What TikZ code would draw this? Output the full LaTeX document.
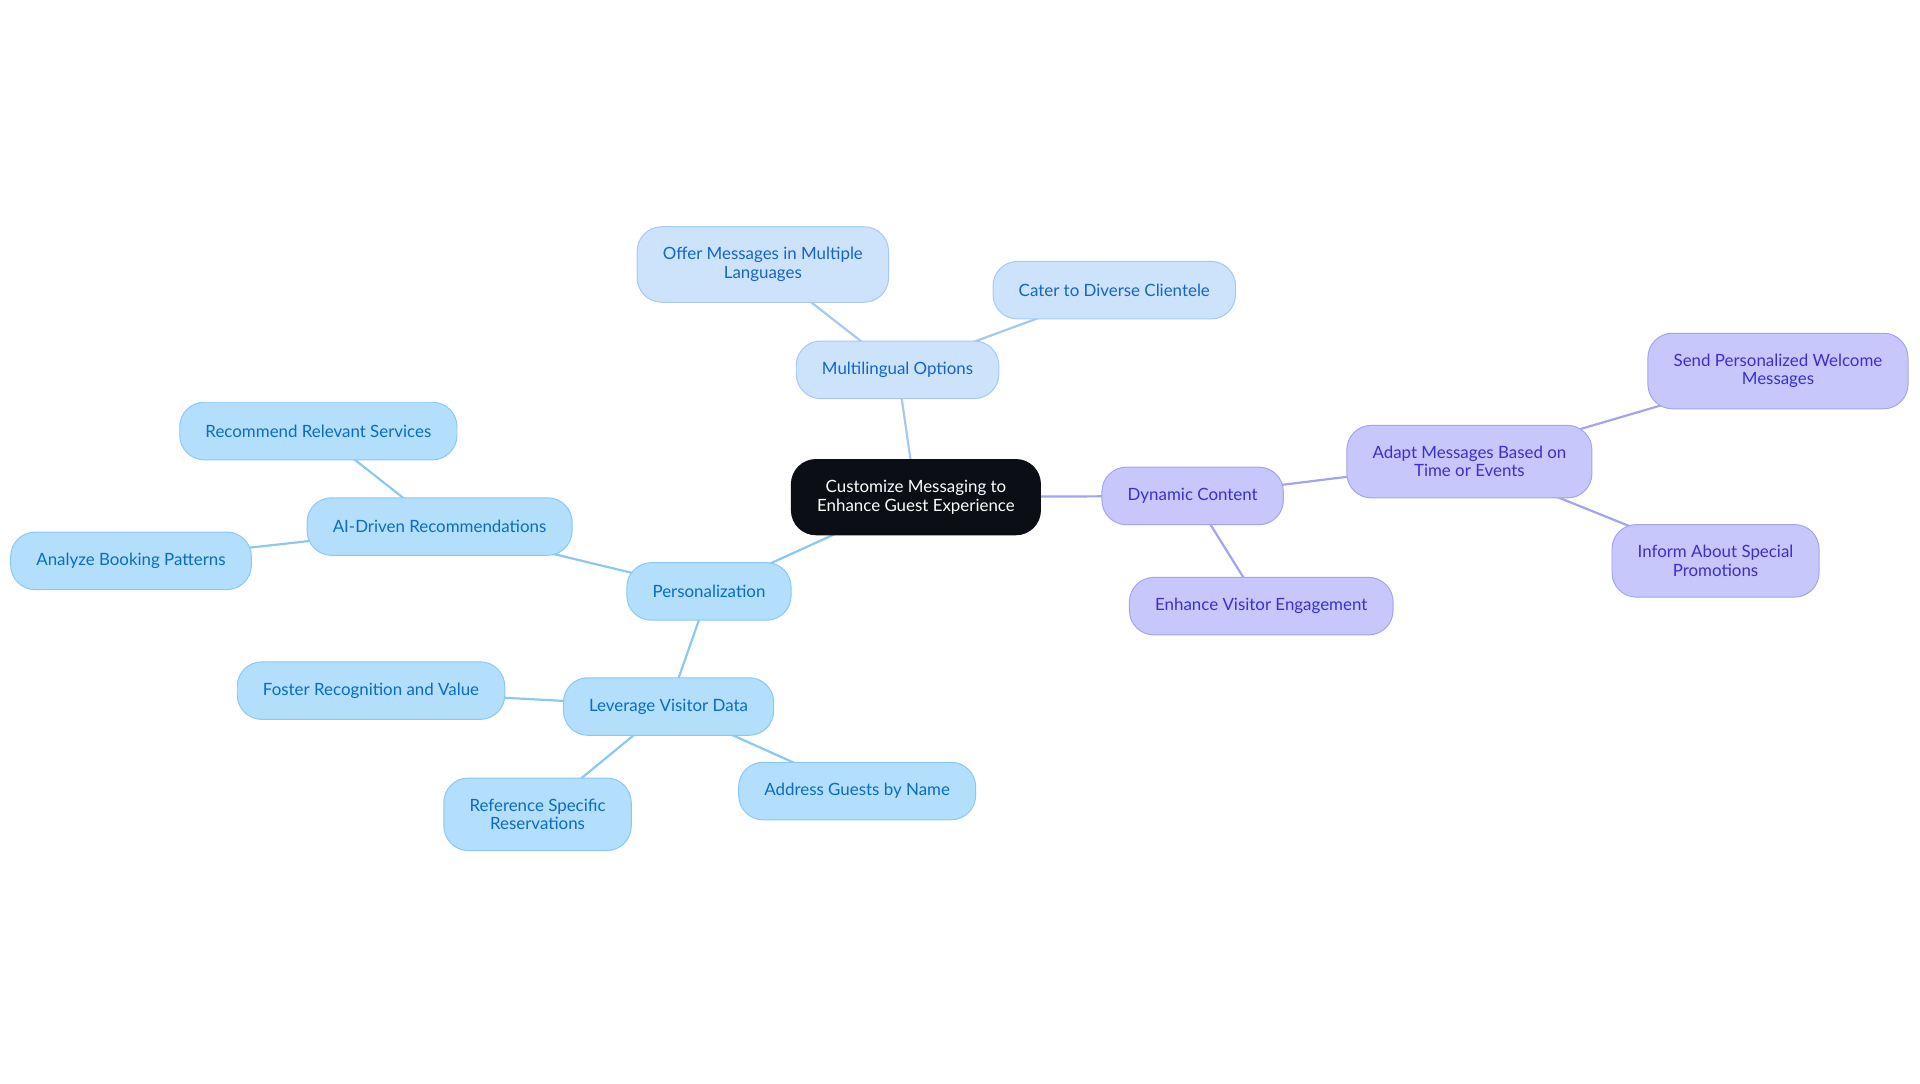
\documentclass[tikz,border=0pt]{standalone}
\usepackage{fontspec}
\setmainfont{Lato}
\usetikzlibrary{backgrounds}
\definecolor{rootfill}{HTML}{0B0E14}
\definecolor{persfill}{HTML}{B3DEFC}
\definecolor{persline}{HTML}{8CC8F4}
\definecolor{perstext}{HTML}{0A6CC2}
\definecolor{multfill}{HTML}{CCE3FB}
\definecolor{multline}{HTML}{A6C9F3}
\definecolor{multtext}{HTML}{1565C8}
\definecolor{dynfill}{HTML}{C7C7FC}
\definecolor{dynline}{HTML}{A3A3F2}
\definecolor{dyntext}{HTML}{3B30CF}
\begin{document}
\begin{tikzpicture}[x=1pt,y=-1pt]
\tikzset{
  topic/.style={rounded corners=20pt, draw, line width=0.8pt, minimum height=47pt,
    inner xsep=21pt, inner ysep=17pt, align=center,
    font=\fontsize{13.8}{15}\selectfont},
  rootnode/.style={topic, fill=rootfill, draw=rootfill, text=white},
  perstopic/.style={topic, fill=persfill, draw=persline, text=perstext},
  multtopic/.style={topic, fill=multfill, draw=multline, text=multtext},
  dyntopic/.style={topic, fill=dynfill, draw=dynline, text=dyntext},
  perslink/.style={draw=persline, line width=1.8pt},
  multlink/.style={draw=multline, line width=1.8pt},
  dynlink/.style={draw=dynline, line width=1.8pt}
}
\useasboundingbox (0,0) rectangle (1568,884.5);
%\draw[step=50,gray,very thin] (0,0) grid (1568,884);
\node[rootnode] (root) at (748,406) {Customize Messaging to\\Enhance Guest Experience};
% multilingual branch
\node[multtopic] (multi) at (733,302) {Multilingual Options};
\node[multtopic] (offer) at (623,216) {Offer Messages in Multiple\\Languages};
\node[multtopic] (cater) at (910,237) {Cater to Diverse Clientele};
% dynamic branch
\node[dyntopic] (dyn) at (974,405) {Dynamic Content};
\node[dyntopic] (adapt) at (1200,377) {Adapt Messages Based on\\Time or Events};
\node[dyntopic] (send) at (1452,303) {Send Personalized Welcome\\Messages};
\node[dyntopic] (inform) at (1401,458) {Inform About Special\\Promotions};
\node[dyntopic] (engage) at (1030,495) {Enhance Visitor Engagement};
% personalization branch
\node[perstopic] (pers) at (579,483) {Personalization};
\node[perstopic] (ai) at (359,430) {AI-Driven Recommendations};
\node[perstopic] (recom) at (260,352) {Recommend Relevant Services};
\node[perstopic] (analyze) at (107,458) {Analyze Booking Patterns};
\node[perstopic] (lever) at (546,577) {Leverage Visitor Data};
\node[perstopic] (foster) at (303,564) {Foster Recognition and Value};
\node[perstopic] (refer) at (439,665) {Reference Specific\\Reservations};
\node[perstopic] (addr) at (700,646) {Address Guests by Name};
% links, centre to centre behind the boxes
\begin{scope}[on background layer]
\draw[multlink] (root.center)--(multi.center);
\draw[multlink] (multi.center)--(offer.center);
\draw[multlink] (multi.center)--(cater.center);
\draw[dynlink] (root.center)--(dyn.center);
\draw[dynlink] (dyn.center)--(adapt.center);
\draw[dynlink] (adapt.center)--(send.center);
\draw[dynlink] (adapt.center)--(inform.center);
\draw[dynlink] (dyn.center)--(engage.center);
\draw[perslink] (root.center)--(pers.center);
\draw[perslink] (pers.center)--(ai.center);
\draw[perslink] (ai.center)--(recom.center);
\draw[perslink] (ai.center)--(analyze.center);
\draw[perslink] (pers.center)--(lever.center);
\draw[perslink] (lever.center)--(foster.center);
\draw[perslink] (lever.center)--(refer.center);
\draw[perslink] (lever.center)--(addr.center);
\end{scope}
\end{tikzpicture}
\end{document}
